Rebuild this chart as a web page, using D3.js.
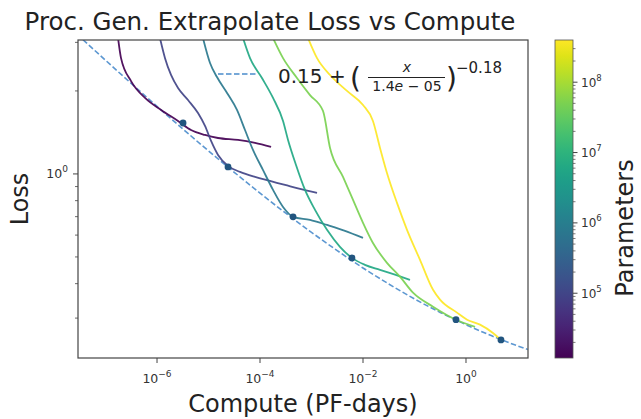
<!DOCTYPE html>
<html><head><meta charset="utf-8">
<script src="https://cdn.jsdelivr.net/npm/d3@7"></script>
<style>body{margin:0;background:#fff;} text{font-family:"DejaVu Sans",sans-serif;}</style>
</head><body><svg id="c" width="641" height="419"></svg>
<script>
// ---------- data ----------
const paramCounts = [1.2e4, 9.6e4, 7.7e5, 6.2e6, 4.97e7, 3.98e8];
const curveCompute = [
  [1.75e-7, 2.0e-7, 3.13e-7, 5.85e-7, 1.2e-6, 2.56e-6, 4.57e-6, 8.55e-6, 1.53e-5, 3.74e-5, 8.0e-5, 1.64e-4],
  [1.14e-6, 1.43e-6, 1.87e-6, 2.56e-6, 4.0e-6, 6.25e-6, 8.55e-6, 1.12e-5, 1.53e-5, 2.39e-5, 4.09e-5, 8.0e-5, 1.56e-4, 3.06e-4, 5.98e-4, 1.28e-3],
  [7.8e-6, 1.07e-5, 1.46e-5, 2.29e-5, 3.57e-5, 5.11e-5, 7.3e-5, 1.14e-4, 1.79e-4, 2.8e-4, 4.38e-4, 9.35e-4, 2.0e-3, 4.47e-3, 1.0e-2],
  [4.68e-5, 6.4e-5, 1.09e-4, 1.79e-4, 2.8e-4, 3.5e-4, 5.0e-4, 7.48e-4, 1.17e-3, 2.0e-3, 3.57e-3, 6.1e-3, 1.09e-2, 2.14e-2, 4.18e-2, 8.18e-2],
  [1.79e-4, 2.8e-4, 5.22e-4, 9.35e-4, 1.67e-3, 2.29e-3, 4.09e-3, 6.4e-3, 1.0e-2, 1.56e-2, 2.92e-2, 5.22e-2, 9.35e-2, 0.229, 0.64, 1.5],
  [8.55e-4, 1.28e-3, 2.29e-3, 4.89e-3, 1.0e-2, 1.56e-2, 2.14e-2, 2.92e-2, 4.57e-2, 7.15e-2, 0.128, 0.229, 0.313, 0.668, 1.05, 1.87, 3.34, 4.78]
];
const curveLoss = [
  [3.11, 2.63, 2.17, 1.886, 1.706, 1.556, 1.443, 1.385, 1.35, 1.328, 1.295, 1.253],
  [3.11, 2.63, 2.285, 2.05, 1.854, 1.663, 1.493, 1.317, 1.172, 1.069, 1.017, 0.975, 0.943, 0.912, 0.882, 0.853],
  [3.11, 2.525, 2.246, 1.966, 1.706, 1.443, 1.222, 1.034, 0.875, 0.759, 0.699, 0.681, 0.653, 0.622, 0.586],
  [3.11, 2.63, 2.228, 1.886, 1.556, 1.328, 1.078, 0.875, 0.741, 0.627, 0.544, 0.496, 0.468, 0.449, 0.431, 0.413],
  [3.11, 2.63, 2.228, 1.932, 1.692, 1.242, 0.975, 0.805, 0.665, 0.562, 0.476, 0.424, 0.371, 0.33, 0.296, 0.279],
  [3.11, 2.63, 2.285, 2.0, 1.778, 1.556, 1.242, 1.008, 0.785, 0.627, 0.488, 0.38, 0.35, 0.314, 0.296, 0.284, 0.265, 0.25]
];
const frontierCompute = [3.2e-6, 2.39e-5, 4.38e-4, 6.1e-3, 0.64, 4.78];
const frontierLoss = [1.53, 1.06, 0.699, 0.496, 0.296, 0.25];
const fitCompute = [2.8e-8, 3.16e-8, 1e-7, 3.16e-7, 1e-6, 3.16e-6, 1e-5, 3.16e-5, 1e-4, 3.16e-4, 1e-3, 3.16e-3, 1e-2, 3.16e-2, 0.1, 0.316, 1, 3.16, 10, 15.85];
const fitLoss = [3.21, 3.144, 2.584, 2.128, 1.758, 1.457, 1.212, 1.014, 0.852, 0.7205, 0.614, 0.527, 0.456, 0.399, 0.352, 0.3146, 0.284, 0.2587, 0.238, 0.231];
const xTicks = [1e-6, 1e-4, 1e-2, 1];
const xTickExp = ["−6", "−4", "−2", "0"];
const yTicks = [1];
const yTickExp = ["0"];
const yMinorTicks = [0.3, 0.4, 0.5, 0.6, 0.7, 0.8, 0.9, 2, 3];
const cbTicks = [1e5, 1e6, 1e7, 1e8];
const cbTickExp = ["5", "6", "7", "8"];

// ---------- layout ----------
const svg = d3.select("#c");
const L = 78, R = 528, T = 40, B = 358;
const x = d3.scaleLog().domain([2.92e-8, 16.0]).range([L, R]);
const y = d3.scaleLog().domain([0.215, 3.06]).range([B, T]);
const color = d3.scaleSequentialLog(d3.interpolateViridis).domain([1.2e4, 3.98e8]);
const textCol = "#333";

svg.append("defs").append("clipPath").attr("id", "clip")
  .append("rect").attr("x", L).attr("y", T).attr("width", R - L).attr("height", B - T);

const plot = svg.append("g").attr("clip-path", "url(#clip)");
const line = d3.line().x(d => x(d[0])).y(d => y(d[1])).curve(d3.curveMonotoneX);

// fit line
plot.append("path").datum(fitCompute.map((c, i) => [c, fitLoss[i]]))
  .attr("d", line).attr("fill", "none").attr("stroke", "#4a8ccc").attr("stroke-width", 1.6)
  .attr("stroke-dasharray", "5.5,2.5").attr("opacity", 0.9);

// model curves
curveCompute.forEach((cs, k) => {
  plot.append("path").datum(cs.map((c, i) => [c, curveLoss[k][i]]))
    .attr("d", line).attr("fill", "none").attr("stroke", color(paramCounts[k]))
    .attr("stroke-width", 1.8).attr("stroke-linejoin", "round").attr("opacity", 0.92);
});

// frontier dots
plot.selectAll("circle.f").data(frontierCompute).join("circle")
  .attr("cx", d => x(d)).attr("cy", (d, i) => y(frontierLoss[i])).attr("r", 3.4)
  .attr("fill", "#22557f");

// spines
svg.append("rect").attr("x", L).attr("y", T).attr("width", R - L).attr("height", B - T)
  .attr("fill", "none").attr("stroke", "#444").attr("stroke-width", 1.2);

// x ticks
xTicks.forEach((t, i) => {
  const px = x(t);
  svg.append("line").attr("x1", px).attr("x2", px).attr("y1", B).attr("y2", B + 5)
    .attr("stroke", "#444").attr("stroke-width", 1);
  const tx = svg.append("text").attr("x", px).attr("y", 383).attr("text-anchor", "middle")
    .attr("font-size", 12.5).attr("fill", textCol);
  tx.append("tspan").text("10");
  tx.append("tspan").attr("dy", -6).attr("font-size", 9).text(xTickExp[i]);
});

// y ticks
yTicks.forEach((t, i) => {
  const py = y(t);
  svg.append("line").attr("x1", L - 5).attr("x2", L).attr("y1", py).attr("y2", py)
    .attr("stroke", "#444").attr("stroke-width", 1);
  const tx = svg.append("text").attr("x", L - 10).attr("y", py + 4.5).attr("text-anchor", "end")
    .attr("font-size", 12.5).attr("fill", textCol);
  tx.append("tspan").text("10");
  tx.append("tspan").attr("dy", -6).attr("font-size", 9).text(yTickExp[i]);
});
yMinorTicks.forEach(t => {
  const py = y(t);
  if (py < T || py > B) return;
  svg.append("line").attr("x1", L - 3).attr("x2", L).attr("y1", py).attr("y2", py)
    .attr("stroke", "#444").attr("stroke-width", 0.8);
});

// title and labels
svg.append("text").attr("x", 270).attr("y", 30).attr("text-anchor", "middle")
  .attr("font-size", 24.5).attr("fill", "#222").text("Proc. Gen. Extrapolate Loss vs Compute");
svg.append("text").attr("x", 303).attr("y", 412).attr("text-anchor", "middle")
  .attr("font-size", 24).attr("fill", "#222").text("Compute (PF-days)");
svg.append("text").attr("transform", "translate(28,199) rotate(-90)").attr("text-anchor", "middle")
  .attr("font-size", 24).attr("fill", "#222").text("Loss");

// legend
const lg = svg.append("g");
lg.append("line").attr("x1", 218).attr("x2", 256).attr("y1", 74).attr("y2", 74)
  .attr("stroke", "#4a8ccc").attr("stroke-width", 1.6).attr("stroke-dasharray", "5.5,2.5");
lg.append("text").attr("x", 278).attr("y", 83).attr("font-size", 20).attr("fill", "#222").text("0.15 +");
lg.append("text").attr("x", 350).attr("y", 88).attr("font-size", 28).attr("fill", "#222").text("(");
lg.append("text").attr("x", 407).attr("y", 72).attr("font-size", 14).attr("font-style", "italic")
  .attr("text-anchor", "middle").attr("fill", "#222").text("x");
lg.append("line").attr("x1", 368).attr("x2", 445).attr("y1", 77.5).attr("y2", 77.5)
  .attr("stroke", "#222").attr("stroke-width", 1);
const den = lg.append("text").attr("x", 407).attr("y", 91).attr("font-size", 14)
  .attr("text-anchor", "middle").attr("fill", "#222");
den.append("tspan").text("1.4");
den.append("tspan").attr("font-style", "italic").text("e");
den.append("tspan").text(" − 05");
lg.append("text").attr("x", 446).attr("y", 88).attr("font-size", 28).attr("fill", "#222").text(")");
lg.append("text").attr("x", 456).attr("y", 73).attr("font-size", 15).attr("fill", "#222").text("−0.18");

// colorbar
const cbX = 555, cbW = 18;
const cy = d3.scaleLog().domain(color.domain()).range([B, T]);
const grad = svg.select("defs").append("linearGradient").attr("id", "cbg")
  .attr("x1", 0).attr("y1", 1).attr("x2", 0).attr("y2", 0);
d3.range(0, 1.0001, 0.05).forEach(t => {
  grad.append("stop").attr("offset", t).attr("stop-color", d3.interpolateViridis(t));
});
svg.append("rect").attr("x", cbX).attr("y", T).attr("width", cbW).attr("height", B - T)
  .attr("fill", "url(#cbg)").attr("stroke", "#555").attr("stroke-width", 0.8);
cbTicks.forEach((t, i) => {
  const py = cy(t);
  svg.append("line").attr("x1", cbX + cbW).attr("x2", cbX + cbW + 4.5).attr("y1", py).attr("y2", py)
    .attr("stroke", "#444").attr("stroke-width", 1);
  const tx = svg.append("text").attr("x", cbX + cbW + 8).attr("y", py + 4.5)
    .attr("font-size", 12).attr("fill", textCol);
  tx.append("tspan").text("10");
  tx.append("tspan").attr("dy", -6).attr("font-size", 8.5).text(cbTickExp[i]);
});
[1e4, 1e5, 1e6, 1e7, 1e8].forEach(dec => {
  for (let m = 2; m <= 9; m++) {
    const v = dec * m;
    if (v < color.domain()[0] || v > color.domain()[1]) continue;
    const py = cy(v);
    svg.append("line").attr("x1", cbX + cbW).attr("x2", cbX + cbW + 2.5).attr("y1", py).attr("y2", py)
      .attr("stroke", "#444").attr("stroke-width", 0.7);
  }
});
svg.append("text").attr("transform", "translate(633,228) rotate(-90)").attr("text-anchor", "middle")
  .attr("font-size", 24).attr("fill", "#222").text("Parameters");
</script></body></html>
